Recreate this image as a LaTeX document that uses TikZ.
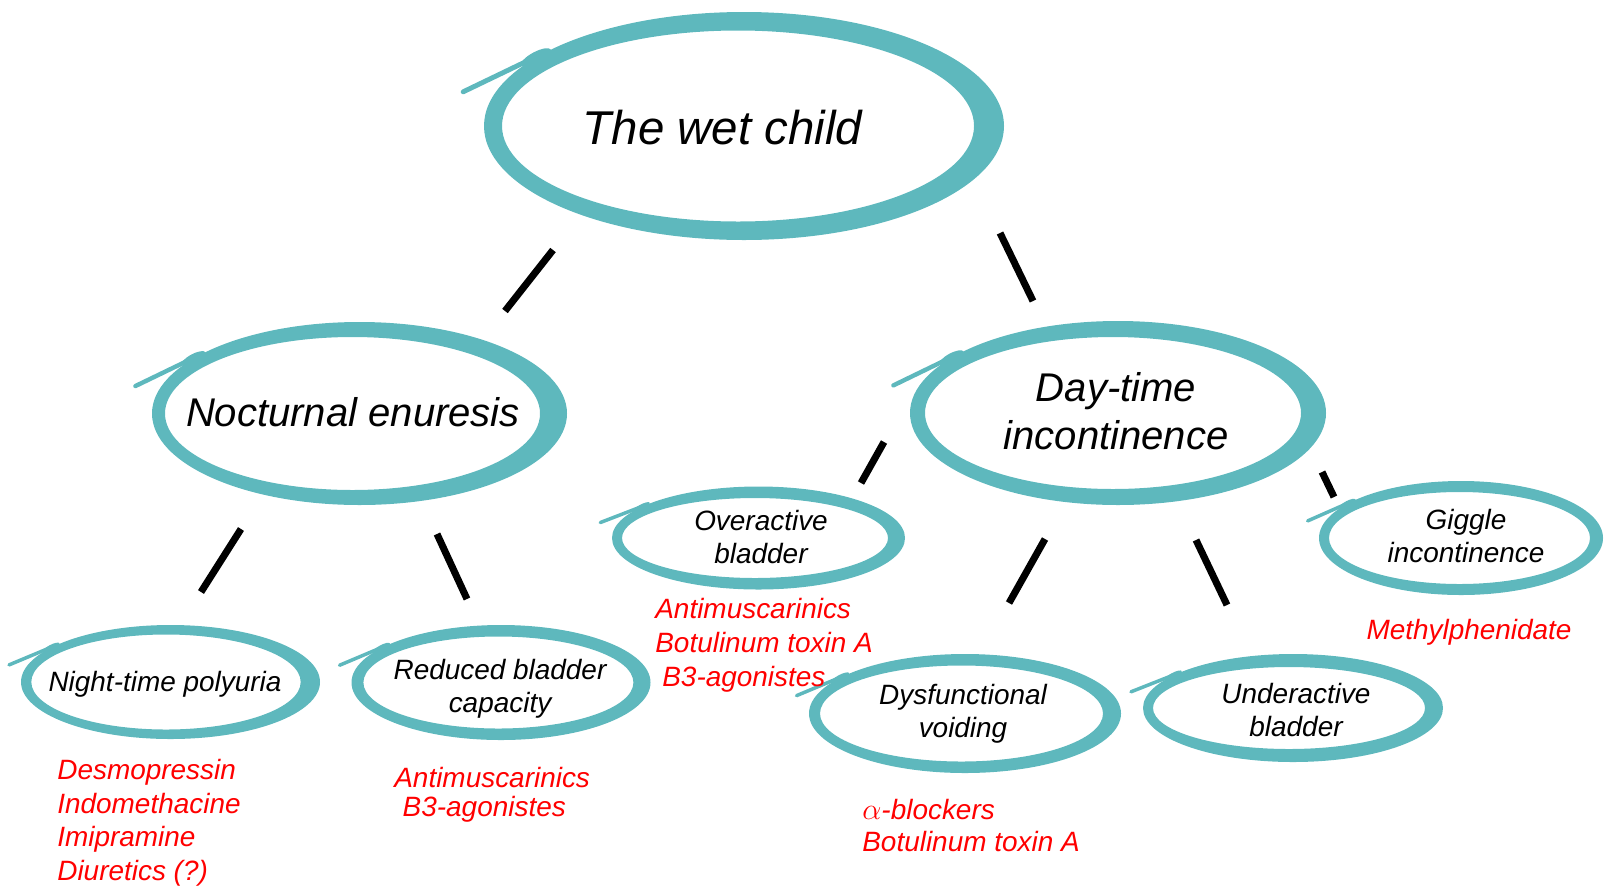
\documentclass[tikz,border=0pt]{standalone}
\usepackage{fontspec}
\setmainfont{Liberation Sans}
\usetikzlibrary{calc}

\definecolor{ringteal}{RGB}{94,184,189}

% brush ring: centre x, centre y, outer radii, inner shift, inner radii, tail width
\newcommand{\brushring}[8]{%
  \fill[ringteal, even odd rule] (#1,#2) ellipse [x radius=#3, y radius=#4]
    ({#1+#5},#2) ellipse [x radius=#6, y radius=#7];
  \draw[ringteal, line width=#8, line cap=round]
    ({#1-1.08*#3},{#2-0.3*#4}) -- ({#1-0.77*#3},{#2-0.64*#4});
  \fill[ringteal, rotate around={28:({#1-0.8*#3},{#2-0.6*#4})}]
    ({#1-0.8*#3},{#2-0.6*#4}) ellipse [x radius={0.065*#3}, y radius={0.05*#4}];
}

\tikzset{
  wetlabel/.style={font=\fontsize{27}{32}\selectfont\itshape, inner sep=0pt},
  mainlabel/.style={font=\fontsize{22.8}{27.2}\selectfont\itshape, align=center, inner sep=0pt},
  sublabel/.style={font=\fontsize{15.9}{18.7}\selectfont\itshape, align=center, inner sep=0pt},
  drug/.style={text=red, font=\fontsize{15.9}{19.3}\selectfont\itshape, align=left, anchor=north west, inner sep=0pt},
  cut/.style={line width=4pt}
}

\begin{document}
\begin{tikzpicture}[x=0.02cm, y=-0.02cm]
  \useasboundingbox (0,0) rectangle (1604,886);

  % rings
  \brushring{744}{126}{260}{114}{-6}{236}{95.5}{2.8pt}
  \brushring{359.5}{413.5}{207.5}{91.5}{-7}{187.5}{76.5}{2.5pt}
  \brushring{1118}{413}{208}{92}{-5}{188}{76}{2.5pt}
  \brushring{758.5}{538}{146.5}{51.5}{-3.5}{133}{40}{2pt}
  \brushring{170.5}{682}{149.5}{57}{-4.5}{134.7}{47.5}{2pt}
  \brushring{501}{682.5}{149.5}{57.5}{-2.6}{135}{46}{2pt}
  \brushring{965}{713.5}{156}{59.5}{-3.5}{141.5}{48}{2pt}
  \brushring{1293}{708}{150}{54}{-4}{136}{41}{2pt}
  \brushring{1461}{538}{142}{57}{-1.5}{130.5}{46}{2pt}

  % labels
  \node[wetlabel] (wet) at (722.5,128) {The wet child};
  \node[mainlabel] (noct) at (353,412) {Nocturnal enuresis};
  \node[mainlabel] (day) at (1116,411.5) {Day-time\\incontinence};
  \node[sublabel] (overact) at (761,537) {Overactive\\bladder};
  \node[sublabel] (night) at (165,684.5) {Night-time polyuria};
  \node[sublabel] (reduced) at (500,689) {Reduced bladder\\capacity};
  \node[sublabel] (dysf) at (963,714) {Dysfunctional\\voiding};
  \node[sublabel] (under) at (1296,710) {Underactive\\bladder};
  \node[sublabel] (giggle) at (1466,536) {Giggle\\incontinence};

  % treatments
  \node[drug] (night-drugs) at (57,758.5) {Desmopressin\\Indomethacine\\Imipramine\\Diuretics (?)};
  \node[drug, font=\fontsize{15.9}{17}\selectfont\itshape] (reduced-drugs) at (394,766.5) {Antimuscarinics\\\hspace*{0.3em}B3-agonistes};
  \node[drug] (overact-drugs) at (655,598) {Antimuscarinics\\Botulinum toxin A\\\hspace*{0.25em}B3-agonistes};
  \node[drug, font=\fontsize{15.9}{18.5}\selectfont\itshape] (dysf-drugs) at (862,798.5) {$\alpha$-blockers\\Botulinum toxin A};
  \node[drug, anchor=base] (giggle-drugs) at (1469,639) {Methylphenidate};

  % cuts
  \coordinate (wet-noct-a) at (553,250);   \coordinate (wet-noct-b) at (505,311);
  \coordinate (wet-day-a) at (1000,233);   \coordinate (wet-day-b) at (1033,301);
  \coordinate (noct-night-a) at (241,529); \coordinate (noct-night-b) at (201,592);
  \coordinate (noct-red-a) at (437,534);   \coordinate (noct-red-b) at (467,599);
  \coordinate (day-over-a) at (884,442);   \coordinate (day-over-b) at (861,483);
  \coordinate (day-dysf-a) at (1045,539);  \coordinate (day-dysf-b) at (1009,603);
  \coordinate (day-under-a) at (1196,540); \coordinate (day-under-b) at (1227,605);
  \coordinate (day-gig-a) at (1322,472);   \coordinate (day-gig-b) at (1334,497);
  \foreach \c in {wet-noct, wet-day, noct-night, noct-red, day-over, day-dysf, day-under, day-gig}
    \draw[cut] (\c-a) -- (\c-b);
\end{tikzpicture}
\end{document}
